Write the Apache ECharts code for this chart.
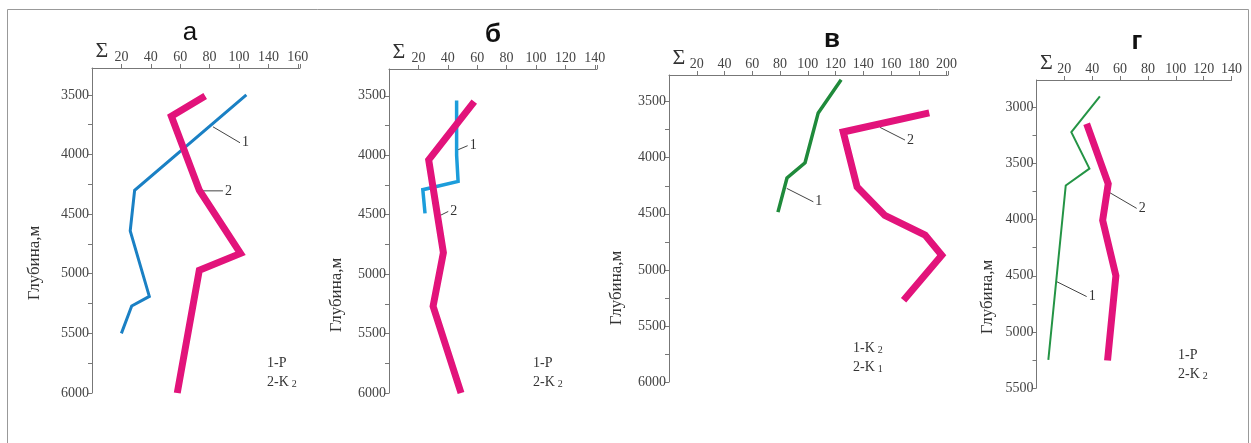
<!DOCTYPE html>
<html><head><meta charset="utf-8">
<script src="https://cdn.jsdelivr.net/npm/echarts@6/dist/echarts.min.js"></script>
<style>html,body{margin:0;padding:0;background:#fff}#c{width:1251px;height:443px}</style>
</head><body><div id="c"></div>
<script>
// ---- data (value Σ, depth m) ----
const panelTitles = ['а', 'б', 'в', 'г'];
const xTickLabelsA = ['Σ', '20', '40', '60', '80', '100', '140', '160'];
const xTickLabelsB = ['Σ', '20', '40', '60', '80', '100', '120', '140'];
const xTickLabelsV = ['Σ', '20', '40', '60', '80', '100', '120', '140', '160', '180', '200'];
const xTickLabelsG = ['Σ', '20', '40', '60', '80', '100', '120', '140'];
const yTicksABV = [3500, 4000, 4500, 5000, 5500, 6000];
const yTicksG = [3000, 3500, 4000, 4500, 5000, 5500];

const aVal1 = [105, 29, 26, 39, 27, 20];
const aDepth1 = [3500, 4300, 4640, 5190, 5270, 5500];
const aVal2 = [77, 54, 73, 101, 73, 58];
const aDepth2 = [3510, 3680, 4300, 4830, 4970, 6000];

const bVal1 = [46, 46, 47, 23, 24.5];
const bDepth1 = [3540, 4000, 4220, 4290, 4490];
const bVal2 = [58, 27, 37, 30, 49];
const bDepth2 = [3550, 4040, 4820, 5270, 6000];

const vVal1 = [124, 107.5, 98, 85, 78.5];
const vDepth1 = [3305, 3600, 4045, 4180, 4485];
const vVal2 = [187.5, 125.5, 135.5, 155.5, 184.5, 196.5, 169];
const vDepth2 = [3600, 3770, 4260, 4515, 4690, 4870, 5270];

const gVal1 = [45.5, 25, 38, 21, 8.5];
const gDepth1 = [2900, 3220, 3545, 3695, 5250];
const gVal2 = [36, 51.5, 47.5, 57, 51];
const gDepth2 = [3145, 3680, 4005, 4500, 5255];

// leader lines for curve numbers: [value, depth]
const leadA1 = [[82.3, 3768], [100.7, 3902]];
const leadA2 = [[74.8, 4305], [89.1, 4305]];
const leadB1 = [[47, 3954], [53.5, 3920]];
const leadB2 = [[33.5, 4515], [40.3, 4473]];
const leadV1 = [[84.8, 4273], [104, 4393]];
const leadV2 = [[152, 3729], [170, 3842]];
const leadG1 = [[14.5, 4552], [36, 4685]];
const leadG2 = [[51.5, 3751], [71.9, 3899]];

const legendA = ['1-P', '2-K{s|2}'];
const legendB = ['1-P', '2-K{s|2}'];
const legendV = ['1-K{s|2}', '2-K{s|1}'];
const legendG = ['1-P', '2-K{s|2}'];
const yName = 'Глубина,м';

// ---- helpers ----
const zip = (v, d) => v.map((x, i) => [x, d[i]]);
const serif = 'Liberation Serif';
const grids = [
  {left: 92, top: 68, width: 208, height: 325},
  {left: 389, top: 69, width: 208, height: 324},
  {left: 669, top: 75, width: 279, height: 307},
  {left: 1036.5, top: 80, width: 195, height: 308}
];
const xMax = [141.5, 141.5, 201, 140];
const yMin = [3275, 3275, 3262, 2755];
const yMax = [6000, 6000, 6000, 5500];
const xLabelSets = [xTickLabelsA, xTickLabelsB, xTickLabelsV, xTickLabelsG];
const yLabelSets = [yTicksABV, yTicksABV, yTicksABV, yTicksG];

const xAxes = xLabelSets.map((labs, i) => {
  const vals = labs.map((_, k) => k * 20);
  return {
    gridIndex: i, type: 'value', position: 'top', min: 0, max: xMax[i],
    axisLine: {show: true, lineStyle: {color: '#777', width: 1}},
    axisTick: {show: true, length: 4, customValues: vals.slice(1).concat([xMax[i]]), lineStyle: {color: '#777'}},
    splitLine: {show: false},
    axisLabel: {
      customValues: vals, margin: 4, color: '#444', fontFamily: serif, fontSize: 14,
      formatter: v => { const k = Math.round(v / 20); return k === 0 ? '{s|Σ}' : labs[k]; },
      rich: {s: {fontSize: 22, fontFamily: serif, color: '#333', padding: [0, 0, 2, 20]}}
    }
  };
});
const yAxes = yLabelSets.map((labs, i) => {
  const ticks = [];
  for (let k = 0; k < labs.length; k++) { ticks.push(labs[k]); if (k < labs.length - 1) ticks.push((labs[k] + labs[k + 1]) / 2); }
  return {
    gridIndex: i, type: 'value', inverse: true, min: yMin[i], max: yMax[i],
    axisLine: {show: true, lineStyle: {color: '#777', width: 1}},
    axisTick: {show: true, length: 4, customValues: ticks, lineStyle: {color: '#777'}},
    splitLine: {show: false},
    axisLabel: {customValues: labs, margin: 3, color: '#444', fontFamily: serif, fontSize: 14,
      formatter: v => String(v)}
  };
});

function curve(i, vals, depths, color, width) {
  return {type: 'line', xAxisIndex: i, yAxisIndex: i, data: zip(vals, depths), showSymbol: false,
    lineStyle: {color: color, width: width, join: 'miter'}, z: 3, animation: false, silent: true};
}
function leader(i, pts, txt) {
  return {type: 'line', xAxisIndex: i, yAxisIndex: i, data: pts, showSymbol: false,
    lineStyle: {color: '#444', width: 1}, z: 2, animation: false, silent: true,
    endLabel: {show: true, formatter: txt, distance: 2, color: '#333', fontFamily: serif, fontSize: 14}};
}

const MAG = '#e2137b';
const series = [
  curve(0, aVal1, aDepth1, '#1a80c4', 3),
  curve(0, aVal2, aDepth2, MAG, 7),
  leader(0, leadA1, '1'), leader(0, leadA2, '2'),
  curve(1, bVal1, bDepth1, '#1c9ddb', 3.5),
  curve(1, bVal2, bDepth2, MAG, 7),
  leader(1, leadB1, '1'), leader(1, leadB2, '2'),
  curve(2, vVal1, vDepth1, '#1f8a3b', 3.5),
  curve(2, vVal2, vDepth2, MAG, 7),
  leader(2, leadV1, '1'), leader(2, leadV2, '2'),
  curve(3, gVal1, gDepth1, '#249445', 2),
  curve(3, gVal2, gDepth2, MAG, 7),
  leader(3, leadG1, '1'), leader(3, leadG2, '2')
];

// text decorations
const titlePos = [[190, 33, 'normal'], [493, 35, 'bold'], [832, 40, 'bold'], [1137, 42, 'bold']];
const yNamePos = [[35, 263], [337, 295], [617, 288], [988, 297]];
const legendPos = [[267, 363, legendA], [533, 363, legendB], [853, 348, legendV], [1178, 355, legendG]];
const graphic = [
  {type: 'rect', shape: {x: 7.5, y: 9.5, width: 1241, height: 440}, style: {fill: 'none', stroke: '#999', lineWidth: 1}, z: 0}
];
panelTitles.forEach((t, i) => graphic.push({type: 'text', x: titlePos[i][0], y: titlePos[i][1],
  style: {text: t, font: titlePos[i][2] + ' 26px "Liberation Sans"', fill: '#111', align: 'center', verticalAlign: 'middle'}}));
yNamePos.forEach(p => graphic.push({type: 'text', x: p[0], y: p[1], rotation: Math.PI / 2,
  style: {text: yName, font: '17px "Liberation Serif"', fill: '#333', align: 'center', verticalAlign: 'middle'}}));
legendPos.forEach(p => p[2].forEach((line, k) => graphic.push({type: 'text', x: p[0], y: p[1] + k * 19,
  style: {text: line, font: '14px "Liberation Serif"', fill: '#333', align: 'left', verticalAlign: 'middle',
    rich: {s: {fontSize: 10, fontFamily: serif, fill: '#333', padding: [4, 0, 0, 3]}}}})));

const chart = echarts.init(document.getElementById('c'), null, {renderer: 'canvas'});
chart.setOption({
  animation: false, backgroundColor: '#fff',
  grid: grids, xAxis: xAxes, yAxis: yAxes, series: series, graphic: graphic
});
</script></body></html>
